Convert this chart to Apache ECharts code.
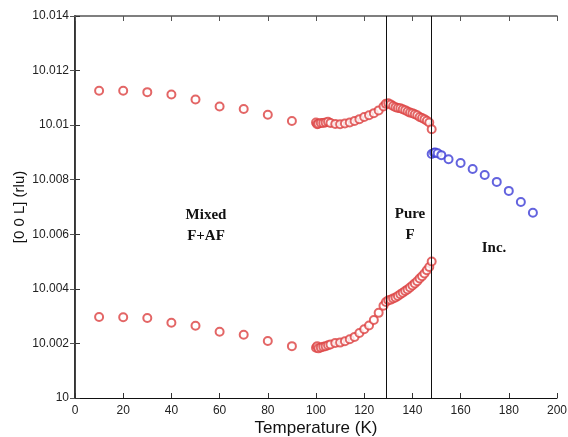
<!DOCTYPE html>
<html>
<head>
<meta charset="utf-8">
<script src="https://cdn.jsdelivr.net/npm/echarts@6/dist/echarts.min.js"></script>
<style>
  html, body { margin: 0; padding: 0; background: #fff; }
  #chart { width: 568px; height: 437px; }
</style>
</head>
<body>
<div id="chart"></div>
<script>
// temperatures (K) for the two red branches
var tempsRed = [10, 20, 30, 40, 50, 60, 70, 80, 90, 100, 100.5, 101, 102, 103, 104, 105, 106, 108, 110,
  112, 114, 116, 118, 120, 122, 124, 126, 128, 129, 130, 131, 132, 133, 134, 135, 136, 137, 138, 139,
  140, 141, 142, 143, 144, 145, 146, 147, 148]
var upperRed = [10.01126, 10.01126, 10.01121, 10.01112, 10.01094, 10.01068, 10.01059, 10.01038, 10.01015,
  10.01010, 10.01003, 10.01005, 10.01008, 10.01008, 10.01010, 10.01012, 10.01008, 10.01004, 10.01003,
  10.01006, 10.01010, 10.01015, 10.01022, 10.01030, 10.01036, 10.01044, 10.01054, 10.01068, 10.01078,
  10.01080, 10.01076, 10.01070, 10.01066, 10.01063, 10.01062, 10.01058, 10.01055, 10.01050, 10.01046,
  10.01044, 10.01040, 10.01036, 10.01030, 10.01026, 10.01022, 10.01016, 10.01010, 10.00985]
var lowerRed = [10.00297, 10.00296, 10.00293, 10.00276, 10.00265, 10.00243, 10.00232, 10.00209, 10.00190,
  10.00184, 10.00190, 10.00182, 10.00185, 10.00188, 10.00190, 10.00193, 10.00196, 10.00202, 10.00203,
  10.00208, 10.00215, 10.00224, 10.00238, 10.00252, 10.00266, 10.00286, 10.00312, 10.00338, 10.00352,
  10.00358, 10.00360, 10.00365, 10.00368, 10.00374, 10.00380, 10.00386, 10.00392, 10.00398, 10.00405,
  10.00412, 10.00420, 10.00428, 10.00438, 10.00446, 10.00456, 10.00468, 10.00480, 10.00500]

// incommensurate phase
var tempsBlue = [148, 149, 149.5, 150.5, 152, 155, 160, 165, 170, 175, 180, 185, 190]
var blueVals = [10.00894, 10.00899, 10.00900, 10.00897, 10.00890, 10.00875, 10.00861, 10.00839,
  10.00817, 10.00792, 10.00759, 10.00718, 10.00679]

// phase boundaries
var boundaries = [129, 148]

var zip = function (xs, ys) {
  return xs.map(function (x, i) { return [x, ys[i]] })
}

// matlab style tick labels: 10, 10.002, 10.01 ...
var fmt = function (v) { return String(parseFloat((+v).toFixed(3))) }

var chart = echarts.init(document.getElementById('chart'))

var labelFont = { fontFamily: 'Liberation Sans', fontSize: 12, color: '#222' }
var phaseFont = 'bold 15px "Liberation Serif"'

var phaseLabel = function (x, y, text) {
  return {
    type: 'text',
    style: { x: x, y: y, text: text, font: phaseFont, fill: '#111', align: 'center', verticalAlign: 'middle', lineHeight: 21 }
  }
}

var option = {
  animation: false,
  backgroundColor: '#fff',
  grid: { left: 75, right: 11, top: 16, bottom: 39, containLabel: false, outerBoundsMode: 'none' },
  xAxis: [
    {
      type: 'value',
      min: 0,
      max: 200,
      interval: 20,
      name: 'Temperature (K)',
      nameLocation: 'middle',
      nameGap: 22,
      nameMoveOverlap: false,
      nameTextStyle: { fontFamily: 'Liberation Sans', fontSize: 17, color: '#111' },
      axisLine: { lineStyle: { color: '#111', width: 1 } },
      axisTick: { inside: true, length: 5, lineStyle: { color: '#333' } },
      axisLabel: Object.assign({ margin: 7 }, labelFont),
      splitLine: { show: false }
    },
    {
      type: 'value',
      position: 'top',
      min: 0,
      max: 200,
      interval: 20,
      axisLine: { lineStyle: { color: '#555', width: 1.5 } },
      axisTick: { inside: true, length: 5, lineStyle: { color: '#555' } },
      axisLabel: { show: false },
      splitLine: { show: false }
    }
  ],
  yAxis: [
    {
      type: 'value',
      min: 10,
      max: 10.014,
      interval: 0.002,
      name: '[0 0 L] (rlu)',
      nameLocation: 'middle',
      nameGap: 48,
      nameMoveOverlap: false,
      nameTextStyle: { fontFamily: 'Liberation Sans', fontSize: 15, color: '#111' },
      axisLine: { lineStyle: { color: '#333', width: 2 } },
      axisTick: { inside: true, length: 5, lineStyle: { color: '#333' } },
      axisLabel: Object.assign({ margin: 6, formatter: fmt }, labelFont),
      splitLine: { show: false }
    },
    {
      type: 'value',
      position: 'right',
      min: 10,
      max: 10.014,
      interval: 0.002,
      axisLine: { lineStyle: { color: '#444', width: 1 } },
      axisTick: { inside: true, length: 5, lineStyle: { color: '#555' } },
      axisLabel: { show: false },
      splitLine: { show: false }
    }
  ],
  series: [
    {
      name: 'upper',
      type: 'scatter',
      symbol: 'emptyCircle',
      symbolSize: 8,
      itemStyle: { color: '#dc4040', borderWidth: 1 },
      data: zip(tempsRed, upperRed),
      markLine: {
        silent: true,
        symbol: 'none',
        label: { show: false },
        lineStyle: { color: '#111', width: 1, type: 'solid' },
        data: boundaries.map(function (t) { return { xAxis: t } })
      }
    },
    {
      name: 'lower',
      type: 'scatter',
      symbol: 'emptyCircle',
      symbolSize: 8,
      itemStyle: { color: '#dc4040', borderWidth: 1 },
      data: zip(tempsRed, lowerRed)
    },
    {
      name: 'inc',
      type: 'scatter',
      symbol: 'emptyCircle',
      symbolSize: 8,
      itemStyle: { color: '#3c3cd6', borderWidth: 1 },
      data: zip(tempsBlue, blueVals)
    }
  ],
  graphic: [
    phaseLabel(206, 226, 'Mixed\nF+AF'),
    phaseLabel(410, 225, 'Pure\nF'),
    phaseLabel(494, 248, 'Inc.')
  ]
}

chart.setOption(option)
</script>
</body>
</html>
